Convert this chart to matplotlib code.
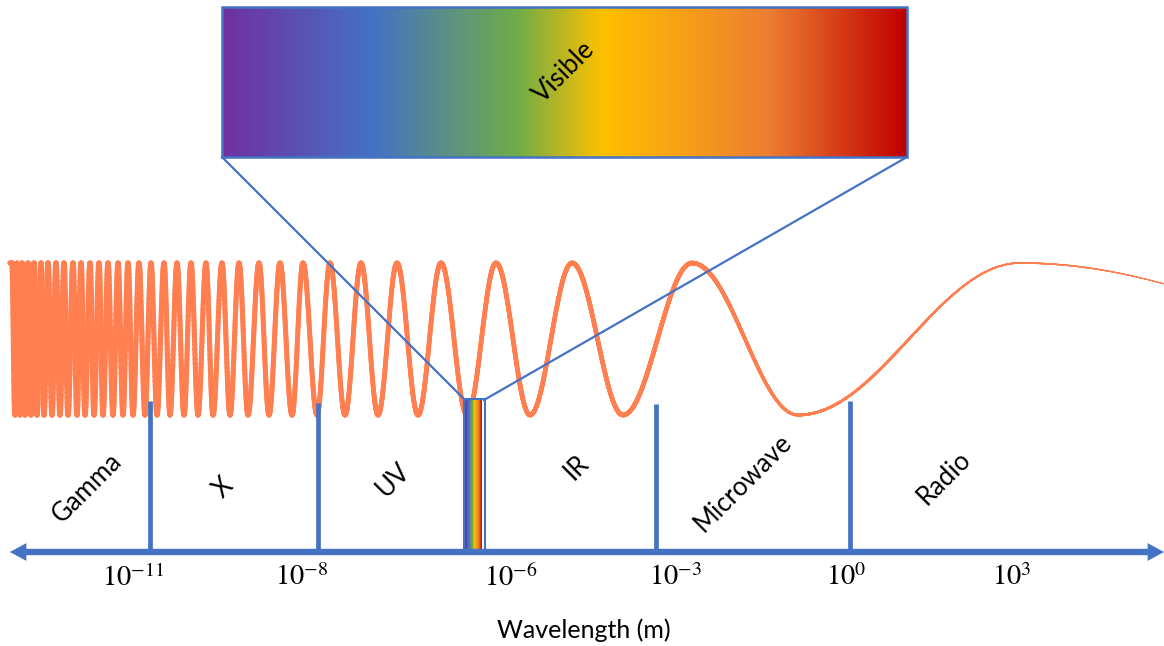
import numpy as np
import matplotlib
matplotlib.use("Agg")
import matplotlib.pyplot as plt
from matplotlib.collections import LineCollection
from matplotlib.colors import LinearSegmentedColormap
from matplotlib.patches import Rectangle, FancyArrowPatch

plt.rcParams['font.family'] = ['Lato', 'DejaVu Sans']
plt.rcParams['mathtext.fontset'] = 'stix'

# --- data (diagram units = pixels) ---
band_names = ["Gamma", "X", "UV", "IR", "Microwave", "Radio"]
band_label_x = [87, 223, 393, 577, 743, 944]
band_label_y = [488, 488, 480, 467, 483, 478]
dividers = [150, 318, 656, 850]
divider_tops = [401, 403, 404, 401]
tick_labels = [r"$10^{-11}$", r"$10^{-8}$", r"$10^{-6}$",
               r"$10^{-3}$", r"$10^{0}$", r"$10^{3}$"]
tick_x = [133, 302, 511, 676, 846, 1012]
visible_band = (464, 485)  # narrow band on the axis
visible_box = (222, 907, 7, 157)  # x0, x1, y0, y1 of the zoom box

# spectrum colours and where they sit in the box (0..1)
spec_colors = ["#7030A0", "#4472C4", "#70AD47", "#FFC000", "#ED7D31", "#C00000"]
spec_pos = [0.0, 0.219, 0.432, 0.556, 0.80, 1.0]

# wave crests and troughs (x positions)
peaks = [12, 17, 22, 28, 34, 41, 48, 56, 64, 73, 81, 90, 99, 108, 118, 128,
         139, 151, 164, 177, 191, 206, 222, 239, 259, 280, 303, 330, 361,
         397, 441, 496, 572, 692, 1020]
troughs = [15, 20, 25, 31, 37, 44, 52, 60, 68, 77, 85, 94, 103, 113, 123, 133,
           145, 157, 170, 184, 198, 213, 230, 248, 269, 292, 317, 345, 378,
           418, 467, 530, 623, 798, 1615]

BLUE = "#4472C4"
WAVE = "#FF7F50"

fig = plt.figure(figsize=(11.64, 6.46), dpi=100)
ax = fig.add_axes([0, 0, 1, 1])
ax.set_xlim(0, 1164)
ax.set_ylim(646, 0)
ax.axis("off")

# wave
extrema = np.sort(np.array(peaks + troughs, dtype=float))
xs = np.linspace(10, 1164, 8000)
phase = np.interp(xs, extrema, np.arange(len(extrema)) * np.pi)
ys = 339 - 76 * np.cos(phase)
pts = np.column_stack([xs, ys]).reshape(-1, 1, 2)
segs = np.concatenate([pts[:-1], pts[1:]], axis=1)
xm = 0.5 * (xs[:-1] + xs[1:])
lw = np.interp(xm, [0, 150, 700, 760, 800, 900, 1000, 1164],
               [4.0, 3.7, 3.2, 2.5, 2.0, 1.8, 1.2, 0.7])
lc = LineCollection(segs, colors=WAVE, linewidths=lw, capstyle="round", zorder=2)
ax.add_collection(lc)

cmap = LinearSegmentedColormap.from_list("spec", list(zip(spec_pos, spec_colors)))
grad = np.linspace(0, 1, 512).reshape(1, -1)

# zoom box
bx0, bx1, by0, by1 = visible_box
ax.imshow(grad, cmap=cmap, aspect="auto", extent=(bx0, bx1, by1, by0), zorder=3)
ax.add_patch(Rectangle((bx0, by0), bx1 - bx0, by1 - by0, fill=False,
                       edgecolor=BLUE, lw=1.8, zorder=4))
ax.text((bx0 + bx1) / 2, 72, "Visible", rotation=45, fontsize=18.5,
        ha="center", va="center", zorder=5)

# lines from box to the band
vx0, vx1 = visible_band
ax.plot([bx0, vx0 + 1], [by1, 400], color=BLUE, lw=1.6, zorder=4)
ax.plot([bx1, vx1 - 1], [by1, 400], color=BLUE, lw=1.6, zorder=4)

# narrow visible band on the axis
ax.imshow(grad, cmap=cmap, aspect="auto", extent=(vx0 + 1, vx1 - 3, 552, 399), zorder=3)
ax.add_patch(Rectangle((vx0, 399), vx1 - vx0, 552 - 399, fill=False,
                       edgecolor=BLUE, lw=1.5, zorder=4))

# region dividers
for x, top in zip(dividers, divider_tops):
    ax.plot([x, x], [top, 552], color=BLUE, lw=3.4, solid_capstyle="butt", zorder=4)

# axis with arrows at both ends
ax.plot([20, 1152], [552, 552], color=BLUE, lw=4.6, solid_capstyle="butt", zorder=4)
arr = FancyArrowPatch((1164, 552), (10, 552), arrowstyle="<|-|>,head_length=1.1,head_width=0.6",
                      mutation_scale=10, color=BLUE, lw=0.5, shrinkA=0, shrinkB=0, zorder=4)
ax.add_patch(arr)

for name, x, y in zip(band_names, band_label_x, band_label_y):
    ax.text(x, y, name, rotation=45, fontsize=18.5, ha="center", va="center",
            rotation_mode="anchor")

for lab, x in zip(tick_labels, tick_x):
    ax.text(x, 577, lab, fontsize=20.5, ha="center", va="center")

ax.text(584, 630, "Wavelength (m)", fontsize=18, ha="center", va="center")

fig.savefig("out.png", dpi=100)
